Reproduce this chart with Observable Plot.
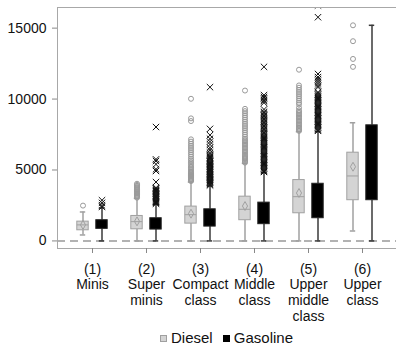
<!DOCTYPE html>
<html>
<head>
<meta charset="utf-8">
<script src="https://cdn.jsdelivr.net/npm/d3@7"></script>
<script src="https://cdn.jsdelivr.net/npm/@observablehq/plot@0.6"></script>
<style>
  html, body { margin: 0; padding: 0; background: #fff; }
  #chart svg { display: block; }
  .legend { margin-left: 57px; width: 339px; height: 16px; text-align: center; font: 15px "Liberation Sans", Arial, sans-serif; line-height: 16px; color: #111; white-space: nowrap; }
  .legend .sw { display: inline-block; width: 7px; height: 7px; box-sizing: border-box; margin-right: 4px; vertical-align: 1px; }
  .legend .item { margin: 0 3px; }
</style>
</head>
<body>
<div id="chart"></div>
<div class="legend">
  <span class="item"><span class="sw" style="background:#d4d4d4;border:1px solid #a0a0a0"></span>Diesel</span>
  <span class="item"><span class="sw" style="background:#000"></span>Gasoline</span>
</div>
<script>
// ---- data ----
const categories = ["1", "2", "3", "4", "5", "6"];
const categoryLabels = ["(1)\nMinis", "(2)\nSuper\nminis", "(3)\nCompact\nclass", "(4)\nMiddle\nclass", "(5)\nUpper\nmiddle\nclass", "(6)\nUpper\nclass"];
const yTicks = [0, 5000, 10000, 15000];

const dieselLow    = [420, 0, 0, 0, 0, 700];
const dieselQ1     = [750, 820, 1220, 1460, 1950, 2870];
const dieselMedian = [1130, 1360, 1850, 2230, 3120, 4580];
const dieselQ3     = [1360, 1760, 2420, 3120, 4290, 6220];
const dieselHigh   = [2040, 3000, 4150, 5470, 7700, 8330];
const dieselMean   = [1130, 1380, 1920, 2460, 3380, 5230];

const gasolineLow    = [0, 0, 0, 0, 0, 0];
const gasolineQ1     = [850, 800, 1010, 1180, 1600, 2870];
const gasolineMedian = [1150, 1150, 1500, 1800, 2700, 5000];
const gasolineQ3     = [1460, 1600, 2230, 2700, 4030, 8150];
const gasolineHigh   = [2320, 2580, 3870, 4810, 7700, 15200];

const dieselOutliers = [
  [2490],
  [3050, 3130, 3200, 3280, 3350, 3430, 3500, 3580, 3650, 3730, 3800, 3880, 3950, 4030],
  [4220, 4280, 4340, 4400, 4460, 4520, 4580, 4640, 4700, 4760, 4820, 4900, 5000, 5100, 5200, 5300, 5440, 5550, 5680, 5800, 5950, 6100, 6250, 6400, 6550, 6700, 6850, 7000, 7160, 8450, 8640, 10020],
  [5520, 5600, 5680, 5760, 5840, 5920, 6000, 6100, 6200, 6300, 6400, 6500, 6600, 6700, 6800, 6900, 7000, 7100, 7200, 7350, 7500, 7650, 7800, 7950, 8100, 8250, 8400, 8550, 8700, 8850, 9000, 9150, 9310, 10600],
  [7760, 7840, 7920, 8000, 8100, 8200, 8300, 8400, 8500, 8600, 8700, 8800, 8900, 9000, 9100, 9200, 9380, 9620, 9750, 9900, 10050, 10200, 10350, 10500, 10650, 10800, 10960, 12070],
  [12270, 12830, 14080, 15200]
];
const gasolineOutliers = [
  [2400, 2500, 2680, 2870],
  [2620, 2680, 2740, 2800, 2860, 2920, 2980, 3040, 3100, 3160, 3220, 3280, 3340, 3400, 3460, 3520, 3580, 3640, 3700, 3750, 4150, 4930, 5050, 5400, 5630, 5750, 8030],
  [3920, 3980, 4040, 4100, 4160, 4220, 4280, 4340, 4400, 4460, 4520, 4580, 4640, 4700, 4760, 4820, 4880, 4940, 5000, 5060, 5120, 5180, 5240, 5300, 5360, 5420, 5480, 5540, 5600, 5680, 5760, 5840, 5920, 6000, 6100, 6220, 6400, 6570, 6800, 7000, 7200, 7460, 7900, 10840],
  [4860, 4940, 5020, 5100, 5180, 5260, 5340, 5420, 5500, 5580, 5660, 5740, 5820, 5900, 5980, 6060, 6140, 6220, 6300, 6380, 6460, 6540, 6620, 6700, 6780, 6860, 6940, 7020, 7100, 7180, 7260, 7340, 7420, 7500, 7600, 7700, 7800, 7900, 8000, 8100, 8200, 8300, 8400, 8500, 8600, 8700, 8800, 8900, 9000, 9100, 9270, 9740, 9850, 9950, 10050, 10150, 10280, 12270],
  [7760, 7840, 7920, 8000, 8080, 8160, 8240, 8320, 8400, 8480, 8560, 8640, 8720, 8800, 8880, 8960, 9040, 9120, 9200, 9280, 9360, 9440, 9520, 9600, 9680, 9760, 9840, 9920, 10000, 10080, 10160, 10240, 10320, 10400, 10480, 10830, 10950, 11100, 11250, 11400, 11550, 11770, 15770, 16600],
  []
];

// ---- tables ----
const dieselStats = categories.map((c, i) => ({cat: c, low: dieselLow[i], q1: dieselQ1[i], med: dieselMedian[i], q3: dieselQ3[i], high: dieselHigh[i], mean: dieselMean[i]}));
const gasolineStats = categories.map((c, i) => ({cat: c, low: gasolineLow[i], q1: gasolineQ1[i], med: gasolineMedian[i], q3: gasolineQ3[i], high: gasolineHigh[i]}));
const dieselOut = categories.flatMap((c, i) => dieselOutliers[i].map(v => ({cat: c, value: v})));
const gasolineOut = categories.flatMap((c, i) => gasolineOutliers[i].map(v => ({cat: c, value: v})));

// ---- styles ----
const OFF = 9.5;
const HALF = 27.3;         // half band width
const BOX = 6;             // half box width
const CAP = 3;             // half cap width
const dBox = {insetLeft: HALF - OFF - BOX, insetRight: HALF + OFF - BOX};
const gBox = {insetLeft: HALF + OFF - BOX, insetRight: HALF - OFF - BOX};
const dCap = {insetLeft: HALF - OFF - CAP, insetRight: HALF + OFF - CAP};
const gCap = {insetLeft: HALF + OFF - CAP, insetRight: HALF - OFF - CAP};
const dStroke = "#a0a0a0", dFill = "#d4d4d4", gStroke = "#3a3a3a";

const labelOf = new Map(categories.map((c, i) => [c, categoryLabels[i]]));

const chart = Plot.plot({
  width: 396,
  height: 330,
  marginLeft: 57,
  marginRight: 0,
  marginTop: 7,
  marginBottom: 82,
  style: {fontFamily: "'Liberation Sans', Arial, sans-serif", fontSize: "14px", background: "#fff", color: "#111"},
  x: {domain: categories, paddingInner: 0, paddingOuter: 0.105, label: null},
  y: {domain: [-534, 16455], label: null},
  marks: [
    Plot.ruleY([0], {stroke: "#999", strokeWidth: 1.5, strokeDasharray: "8,5"}),
    // Diesel
    Plot.ruleX(dieselStats, {x: "cat", y1: "low", y2: "q1", dx: -OFF, stroke: dStroke, strokeWidth: 1.5}),
    Plot.ruleX(dieselStats, {x: "cat", y1: "q3", y2: "high", dx: -OFF, stroke: dStroke, strokeWidth: 1.5}),
    Plot.tickY(dieselStats, {x: "cat", y: "low", ...dCap, stroke: dStroke, strokeWidth: 1.5}),
    Plot.tickY(dieselStats, {x: "cat", y: "high", ...dCap, stroke: dStroke, strokeWidth: 1.5}),
    Plot.barY(dieselStats, {x: "cat", y1: "q1", y2: "q3", ...dBox, fill: dFill, stroke: dStroke, strokeWidth: 1}),
    Plot.tickY(dieselStats, {x: "cat", y: "med", ...dBox, stroke: dStroke, strokeWidth: 1}),
    Plot.dot(dieselStats, {x: "cat", y: "mean", dx: -OFF, symbol: "diamond", r: 2.7, stroke: dStroke, fill: "none", strokeWidth: 1}),
    Plot.dot(dieselOut, {x: "cat", y: "value", dx: -OFF, r: 2.5, stroke: "#9a9a9a", fill: "none", strokeWidth: 1, clip: true}),
    // Gasoline
    Plot.ruleX(gasolineStats, {x: "cat", y1: "low", y2: "q1", dx: OFF, stroke: gStroke, strokeWidth: 1.5}),
    Plot.ruleX(gasolineStats, {x: "cat", y1: "q3", y2: "high", dx: OFF, stroke: gStroke, strokeWidth: 1.5}),
    Plot.tickY(gasolineStats, {x: "cat", y: "low", ...gCap, stroke: gStroke, strokeWidth: 1.5}),
    Plot.tickY(gasolineStats, {x: "cat", y: "high", ...gCap, stroke: gStroke, strokeWidth: 1.5}),
    Plot.barY(gasolineStats, {x: "cat", y1: "q1", y2: "q3", ...gBox, fill: "#000", stroke: "#222", strokeWidth: 1}),
    Plot.dot(gasolineOut, {x: "cat", y: "value", dx: OFF, symbol: "times", r: 3, stroke: "#111", strokeWidth: 1, clip: true}),
    // frame & axes
    Plot.frame({stroke: "#a8a8a8"}),
    Plot.axisY({ticks: yTicks, tickSize: 5, tickPadding: 6, tickFormat: d3.format("d"), fontSize: 14, stroke: "#888", fill: "#111", label: null}),
    Plot.axisX({tickSize: 5, tickPadding: 9, tickFormat: d => labelOf.get(d), lineHeight: 1.12, fontSize: 14, stroke: "#888", fill: "#111", label: null})
  ]
});
document.getElementById("chart").appendChild(chart);
</script>
</body>
</html>
